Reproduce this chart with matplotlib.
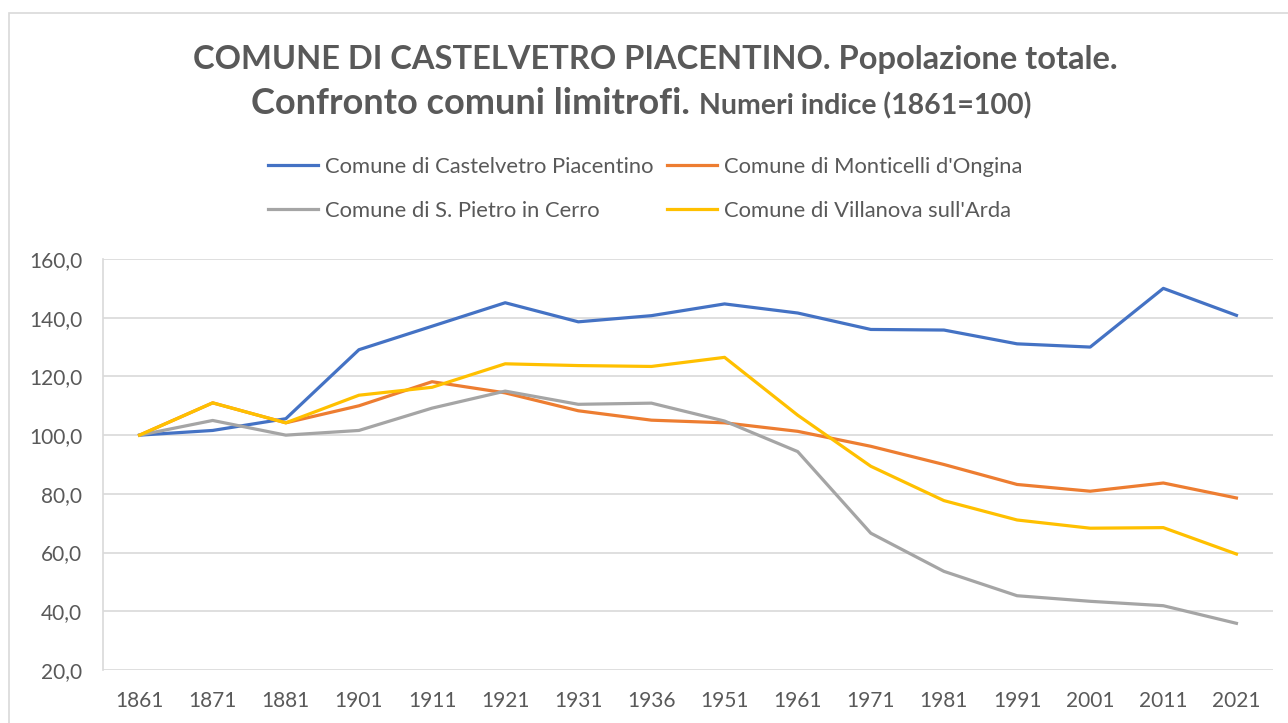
import matplotlib
matplotlib.use("Agg")
import matplotlib.pyplot as plt
from matplotlib.lines import Line2D
from matplotlib.patches import Rectangle
from matplotlib.ticker import FuncFormatter

# data (numeri indice, 1861 = 100)
anni = ['1861', '1871', '1881', '1901', '1911', '1921', '1931', '1936',
        '1951', '1961', '1971', '1981', '1991', '2001', '2011', '2021']
castelvetro = [100.0, 101.6, 105.6, 129.1, 137.1, 145.1, 138.6, 140.7,
               144.7, 141.6, 136.0, 135.8, 131.1, 130.0, 150.0, 140.8]
monticelli = [100.0, 111.0, 104.2, 110.0, 118.2, 114.4, 108.3, 105.1,
              104.2, 101.3, 96.2, 90.0, 83.2, 80.9, 83.7, 78.6]
s_pietro = [100.0, 105.0, 100.0, 101.6, 109.2, 115.0, 110.5, 110.9,
            104.8, 94.4, 66.6, 53.6, 45.3, 43.4, 41.9, 35.9]
villanova = [100.0, 111.0, 104.2, 113.6, 116.3, 124.3, 123.7, 123.4,
             126.5, 106.8, 89.4, 77.7, 71.1, 68.3, 68.5, 59.5]

serie = [
    ('Comune di Castelvetro Piacentino', castelvetro, '#4472C4'),
    ('Comune di Monticelli d\'Ongina', monticelli, '#ED7D31'),
    ('Comune di S. Pietro in Cerro', s_pietro, '#A5A5A5'),
    ('Comune di Villanova sull\'Arda', villanova, '#FFC000'),
]

plt.rcParams['font.family'] = ['Lato', 'DejaVu Sans']
grigio = '#595959'

W, H = 1288, 723
fig = plt.figure(figsize=(W / 100, H / 100), dpi=100)
fig.patches.append(Rectangle((9 / W, -0.2), 1.5, 1.2 - 13 / H, transform=fig.transFigure,
                             fill=False, edgecolor='#D9D9D9', linewidth=1.2))

ax = fig.add_axes([103 / W, 1 - 670 / H, (1273 - 103) / W, (670 - 259) / H])
x = list(range(len(anni)))
for nome, valori, colore in serie:
    ax.plot(x, valori, color=colore, linewidth=2.3, label=nome)

ax.set_xlim(-0.5, len(anni) - 0.5)
ax.set_ylim(20, 160)
ax.set_yticks(range(20, 161, 20))
ax.yaxis.set_major_formatter(FuncFormatter(lambda v, p: f'{v:.1f}'.replace('.', ',')))
ax.set_xticks(x)
ax.set_xticklabels(anni)
ax.grid(axis='y', color='#D9D9D9', linewidth=1.2)
ax.set_axisbelow(True)
for s in ['top', 'right', 'bottom']:
    ax.spines[s].set_visible(False)
ax.spines['left'].set_color('#D9D9D9')
ax.spines['left'].set_linewidth(1.2)
ax.tick_params(axis='y', length=0, pad=15, labelsize=15, labelcolor=grigio)
ax.tick_params(axis='x', length=0, pad=15, labelsize=15, labelcolor=grigio)

# title
fig.text(655 / W, 1 - 60 / H, 'COMUNE DI CASTELVETRO PIACENTINO. Popolazione totale.',
         ha='center', va='center', fontsize=23.5, fontweight='bold', color=grigio)
fig.canvas.draw()
r = fig.canvas.get_renderer()
t1 = fig.text(0, 0, 'Confronto comuni limitrofi. ', ha='left', va='baseline',
              fontsize=26, fontweight='bold', color=grigio)
t2 = fig.text(0, 0, 'Numeri indice (1861=100)', ha='left', va='baseline',
              fontsize=20.5, fontweight='bold', color=grigio)
w1 = t1.get_window_extent(r).width
w2 = t2.get_window_extent(r).width
x0 = 641 - (w1 + w2) / 2
yb = 1 - 114 / H
t1.set_position((x0 / W, yb))
t2.set_position(((x0 + w1) / W, yb))

handles = [Line2D([], [], color=c, linewidth=2.3) for _, _, c in serie]
labels = [n for n, _, _ in serie]
order = [0, 2, 1, 3]
fig.legend([handles[i] for i in order], [labels[i] for i in order], ncol=2,
           loc='center', bbox_to_anchor=(645 / W, 1 - 189 / H), frameon=False,
           fontsize=15.8, labelcolor=grigio, handlelength=2.3, handletextpad=0.3,
           columnspacing=0.6, labelspacing=1.1, borderpad=0)

fig.savefig('out.png', dpi=100)
